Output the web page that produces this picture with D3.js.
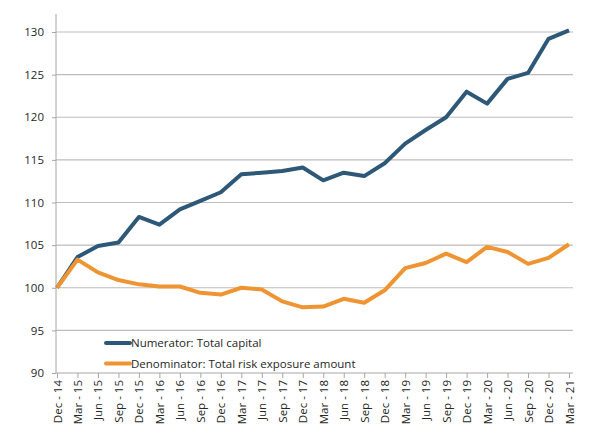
<!DOCTYPE html>
<html>
<head>
<meta charset="utf-8">
<script src="https://cdn.jsdelivr.net/npm/d3@7"></script>
<style>
    body { margin: 0; background: #fff; }
    text { font-family: "Open Sans", "Liberation Sans", sans-serif; fill: #262626; }
</style>
</head>
<body>
<div class="chart"></div>
<script>
var quarters = ["Dec - 14", "Mar - 15", "Jun - 15", "Sep - 15", "Dec - 15", "Mar - 16", "Jun - 16",
    "Sep - 16", "Dec - 16", "Mar - 17", "Jun - 17", "Sep - 17", "Dec - 17", "Mar - 18", "Jun - 18",
    "Sep - 18", "Dec - 18", "Mar - 19", "Jun - 19", "Sep - 19", "Dec - 19", "Mar - 20", "Jun - 20",
    "Sep - 20", "Dec - 20", "Mar - 21"];
var numerator = [100, 103.6, 104.9, 105.3, 108.3, 107.4, 109.2, 110.2, 111.2, 113.3, 113.5, 113.7,
    114.1, 112.6, 113.5, 113.1, 114.6, 116.9, 118.5, 120.0, 123.0, 121.6, 124.5, 125.2, 129.2, 130.2];
var denominator = [100, 103.3, 101.8, 100.9, 100.4, 100.15, 100.15, 99.4, 99.2, 100.0, 99.8, 98.4,
    97.7, 97.8, 98.7, 98.25, 99.7, 102.3, 102.9, 104.0, 103.0, 104.8, 104.2, 102.8, 103.5, 105.1];
var yTicks = [90, 95, 100, 105, 110, 115, 120, 125, 130];
var seriesNames = ["Numerator: Total capital", "Denominator: Total risk exposure amount"];
var seriesColors = ["#2d5877", "#ef9432"];

var svgWidth = 590;
var svgHeight = 437;

var svg = d3.select(".chart")
    .append("svg")
    .attr("width", svgWidth)
    .attr("height", svgHeight);

var x = d3.scalePoint()
    .domain(quarters)
    .range([57, 569]);

var y = d3.scaleLinear()
    .domain([90, 130])
    .range([373, 32]);

// gridlines
svg.append("g")
    .selectAll("line")
    .data(yTicks.slice(1))
    .enter()
    .append("line")
    .attr("x1", 56)
    .attr("x2", 573)
    .attr("y1", function(d) { return y(d); })
    .attr("y2", function(d) { return y(d); })
    .attr("stroke", "#bdbdbd")
    .attr("stroke-width", 1.2);

// y axis
var leftAxis = d3.axisLeft(y).tickValues(yTicks).tickSize(4).tickPadding(8);
var gy = svg.append("g")
    .attr("transform", "translate(56,0)")
    .call(leftAxis);
gy.select(".domain").attr("stroke", "#a6a6a6").attr("d", "M0,14V373");
gy.selectAll(".tick line").attr("stroke", "#a6a6a6");
gy.selectAll(".tick text").attr("font-size", "11.5px").attr("fill", "#262626")
    .style("font-family", "'Open Sans', sans-serif");

// x axis
var bottomAxis = d3.axisBottom(x).tickSize(5).tickPadding(4);
var gx = svg.append("g")
    .attr("transform", "translate(0,373)")
    .call(bottomAxis);
gx.select(".domain").attr("stroke", "#a6a6a6").attr("d", "M56,0H573");
gx.selectAll(".tick line").attr("stroke", "#a6a6a6");
gx.selectAll(".tick text")
    .attr("font-size", "11.5px")
    .attr("fill", "#262626")
    .style("font-family", "'Open Sans', sans-serif")
    .attr("text-anchor", "end")
    .attr("transform", "rotate(-90)")
    .attr("x", -7)
    .attr("y", 0)
    .attr("dy", "0.35em");

// lines
var line = d3.line()
    .x(function(d, i) { return x(quarters[i]); })
    .y(function(d) { return y(d); });

[numerator, denominator].forEach(function(values, i) {
    svg.append("path")
        .datum(values)
        .attr("fill", "none")
        .attr("stroke", seriesColors[i])
        .attr("stroke-width", 4)
        .attr("stroke-linejoin", "round")
        .attr("d", line);
});

// legend
var legend = svg.append("g");
seriesNames.forEach(function(name, i) {
    var ly = 343 + i * 20.5;
    legend.append("line")
        .attr("x1", 106)
        .attr("x2", 130)
        .attr("y1", ly)
        .attr("y2", ly)
        .attr("stroke", seriesColors[i])
        .attr("stroke-width", 4)
        .attr("stroke-linecap", "round");
    legend.append("text")
        .attr("x", 131)
        .attr("y", ly)
        .attr("dy", "0.35em")
        .attr("font-size", "11.5px")
        .text(name);
});
</script>
</body>
</html>
